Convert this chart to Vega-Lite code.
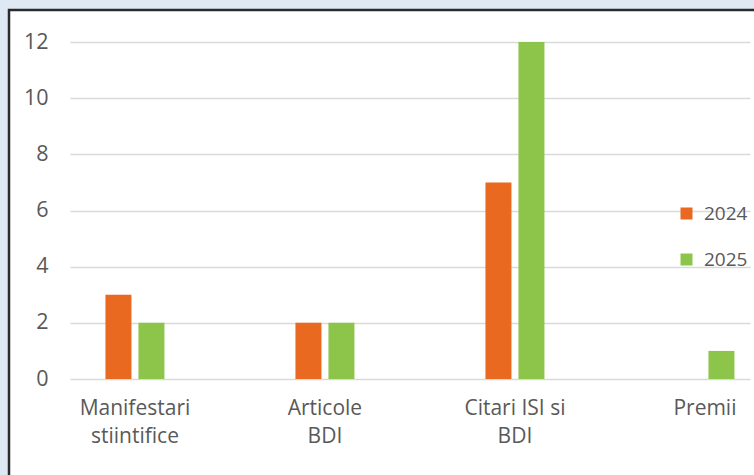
{
  "$schema": "https://vega.github.io/schema/vega-lite/v6.json",
  "width": 748,
  "height": 468,
  "autosize": "none",
  "padding": {"left": 9, "top": 10, "right": -3, "bottom": -3},
  "background": "#dfe9f4",
  "config": {
    "view": {"fill": "#ffffff", "stroke": "#2b2b2b", "strokeWidth": 2.5},
    "font": "Open Sans",
    "axis": {"labelFont": "Open Sans", "labelColor": "#595959", "domain": false, "ticks": false},
    "legend": {"labelFont": "Open Sans"}
  },
  "data": {
    "values": [
      {"categorie": "Manifestari stiintifice", "an": "2024", "valoare": 3},
      {"categorie": "Manifestari stiintifice", "an": "2025", "valoare": 2},
      {"categorie": "Articole BDI", "an": "2024", "valoare": 2},
      {"categorie": "Articole BDI", "an": "2025", "valoare": 2},
      {"categorie": "Citari ISI si BDI", "an": "2024", "valoare": 7},
      {"categorie": "Citari ISI si BDI", "an": "2025", "valoare": 12},
      {"categorie": "Premii", "an": "2025", "valoare": 1}
    ]
  },
  "mark": {"type": "bar"},
  "encoding": {
    "x": {
      "field": "categorie",
      "type": "nominal",
      "sort": null,
      "scale": {"range": [61, 741], "paddingInner": 0.6895, "paddingOuter": 0.1342, "align": 0.695},
      "axis": {
        "title": null,
        "grid": false,
        "labelAngle": 0,
        "labelFontSize": 21,
        "labelLineHeight": 28,
        "labelBaseline": "top",
        "labelPadding": 2,
        "offset": -83,
        "labelExpr": "datum.value == 'Citari ISI si BDI' ? ['Citari ISI si', 'BDI'] : split(datum.value, ' ')"
      }
    },
    "xOffset": {
      "field": "an",
      "type": "nominal",
      "scale": {"paddingInner": 0.212, "paddingOuter": 0}
    },
    "y": {
      "field": "valoare",
      "type": "quantitative",
      "scale": {"domain": [0, 12], "range": [369, 32], "nice": false},
      "axis": {
        "title": null,
        "values": [0, 2, 4, 6, 8, 10, 12],
        "grid": true,
        "gridColor": "#d9d9d9",
        "gridWidth": 1.5,
        "offset": -61,
        "labelPadding": 22,
        "labelFontSize": 21.5
      }
    },
    "color": {
      "field": "an",
      "type": "nominal",
      "scale": {"range": ["#e8691f", "#8dc54b"]},
      "legend": {
        "title": null,
        "orient": "none",
        "legendX": 668,
        "legendY": 194,
        "padding": 0,
        "symbolType": "square",
        "symbolSize": 144,
        "symbolStrokeWidth": 0,
        "labelFontSize": 19,
        "labelColor": "#595959",
        "labelOffset": 8,
        "rowPadding": 26
      }
    }
  }
}
